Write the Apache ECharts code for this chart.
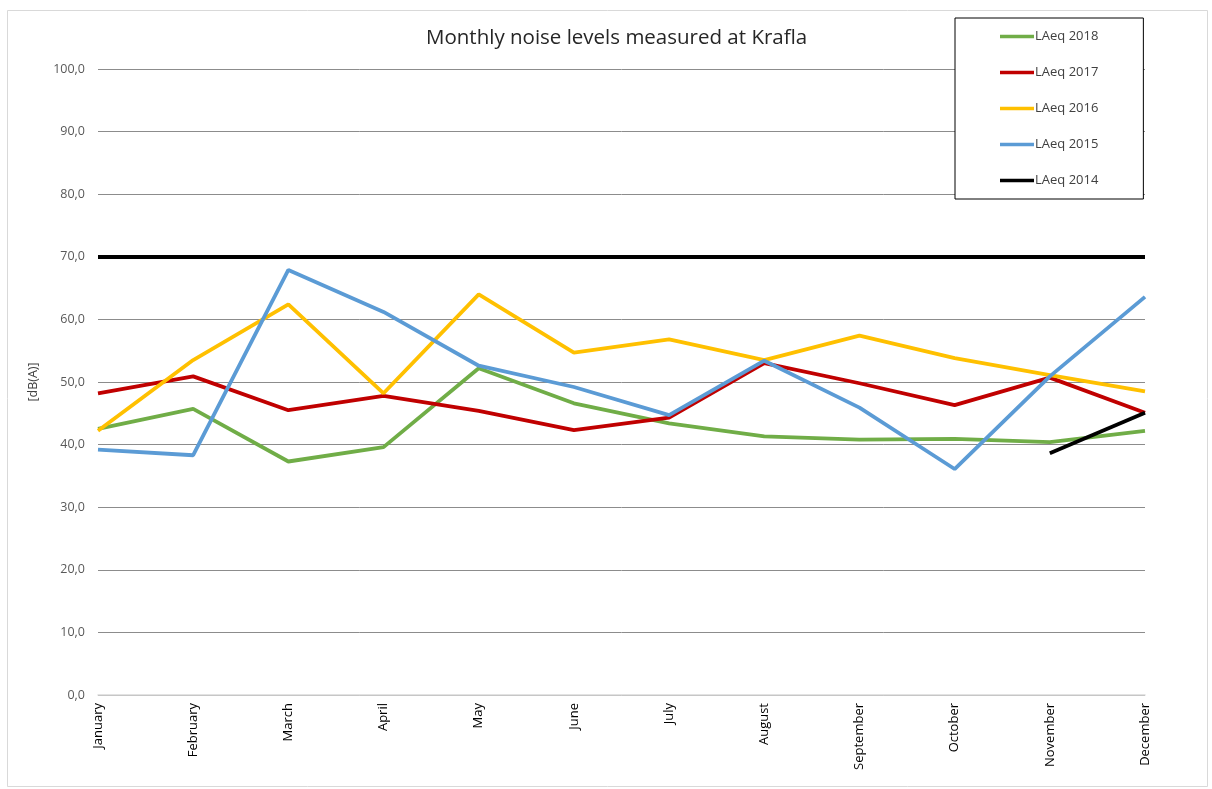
<!DOCTYPE html>
<html>
<head>
<meta charset="utf-8">
<script src="https://cdn.jsdelivr.net/npm/echarts@6/dist/echarts.min.js"></script>
<style>
html,body{margin:0;padding:0;background:#fff;}
#chart{width:1212px;height:789px;}
</style>
</head>
<body>
<div id="chart"></div>
<script>
const months = ['January','February','March','April','May','June','July','August','September','October','November','December'];
const laeq2018 = [42.5, 45.7, 37.3, 39.6, 52.2, 46.6, 43.4, 41.3, 40.8, 40.9, 40.4, 42.2];
const laeq2017 = [48.2, 50.9, 45.5, 47.8, 45.4, 42.3, 44.3, 53.0, 49.8, 46.3, 50.7, 45.1];
const laeq2016 = [42.2, 53.5, 62.4, 48.2, 64.0, 54.7, 56.8, 53.5, 57.4, 53.8, 51.1, 48.5];
const laeq2015 = [39.2, 38.3, 67.9, 61.2, 52.6, 49.2, 44.7, 53.4, 45.9, 36.1, 50.9, 63.6];
const laeq2014 = [null, null, null, null, null, null, null, null, null, null, 38.6, 45.1];
const limitValue = 70;
const yTicks = [0, 10, 20, 30, 40, 50, 60, 70, 80, 90, 100];
const legendNames = ['LAeq 2018', 'LAeq 2017', 'LAeq 2016', 'LAeq 2015', 'LAeq 2014'];

const font = '"Open Sans", "Liberation Sans", sans-serif';
const lineIcon = 'path://M0,0 L34,0 L34,3.5 L0,3.5 Z';
function mk(name, data, color, extra) {
  return Object.assign({
    name: name, type: 'line', data: data, symbol: 'none', showSymbol: false,
    lineStyle: { color: color, width: 3.8 }, itemStyle: { color: color },
    connectNulls: false, animation: false
  }, extra || {});
}

const chart = echarts.init(document.getElementById('chart'), null, { renderer: 'canvas' });
chart.setOption({
  backgroundColor: '#fff',
  animation: false,
  title: {
    text: 'Monthly noise levels measured at Krafla',
    left: 421, top: 23,
    textStyle: { fontFamily: font, fontSize: 20.5, fontWeight: 'normal', color: '#262626' }
  },
  graphic: [{
    type: 'rect', left: 5, top: 8, silent: true,
    shape: { width: 1200, height: 776 },
    style: { fill: 'none', stroke: '#d9d9d9', lineWidth: 1 }
  }],
  legend: {
    orient: 'vertical', left: 955, top: 18,
    padding: [12, 45, 12, 45],
    borderColor: '#000', borderWidth: 1, backgroundColor: '#fff',
    itemWidth: 34, itemHeight: 12, itemGap: 23,
    icon: lineIcon, symbolKeepAspect: true,
    textStyle: { fontFamily: font, fontSize: 13, color: '#404040', padding: [0,0,0,-4] },
    data: legendNames
  },
  grid: { left: 98, right: 67, top: 69, bottom: 94, containLabel: false },
  xAxis: {
    type: 'category', data: months, boundaryGap: false,
    axisLine: { show: true, lineStyle: { color: '#d9d9d9', width: 1.5 } },
    axisTick: { show: false },
    axisLabel: { rotate: 90, interval: 0, margin: 8, fontFamily: font, fontSize: 13, color: '#000' },
    splitLine: { show: false }
  },
  yAxis: {
    type: 'value', min: yTicks[0], max: yTicks[yTicks.length - 1], interval: 10,
    name: '[dB(A)]', nameLocation: 'middle', nameGap: 58, nameRotate: 90,
    nameTextStyle: { fontFamily: font, fontSize: 12.5, color: '#404040' },
    axisLine: { show: false }, axisTick: { show: false },
    axisLabel: { margin: 13, fontFamily: font, fontSize: 12.5, color: '#595959',
      formatter: v => v.toFixed(1).replace('.', ',') },
    splitLine: { show: true, lineStyle: { color: '#8c8c8c', width: 1 } }
  },
  series: [
    mk('LAeq 2018', laeq2018, '#70AD47'),
    mk('LAeq 2017', laeq2017, '#C00000'),
    mk('LAeq 2016', laeq2016, '#FFC000'),
    mk('LAeq 2015', laeq2015, '#5B9BD5'),
    mk('LAeq 2014', laeq2014, '#000000', {
      markLine: {
        silent: true, symbol: ['none', 'none'], label: { show: false },
        lineStyle: { color: '#000', width: 4, type: 'solid' },
        data: [{ yAxis: limitValue }], animation: false
      }
    })
  ]
});
</script>
</body>
</html>
